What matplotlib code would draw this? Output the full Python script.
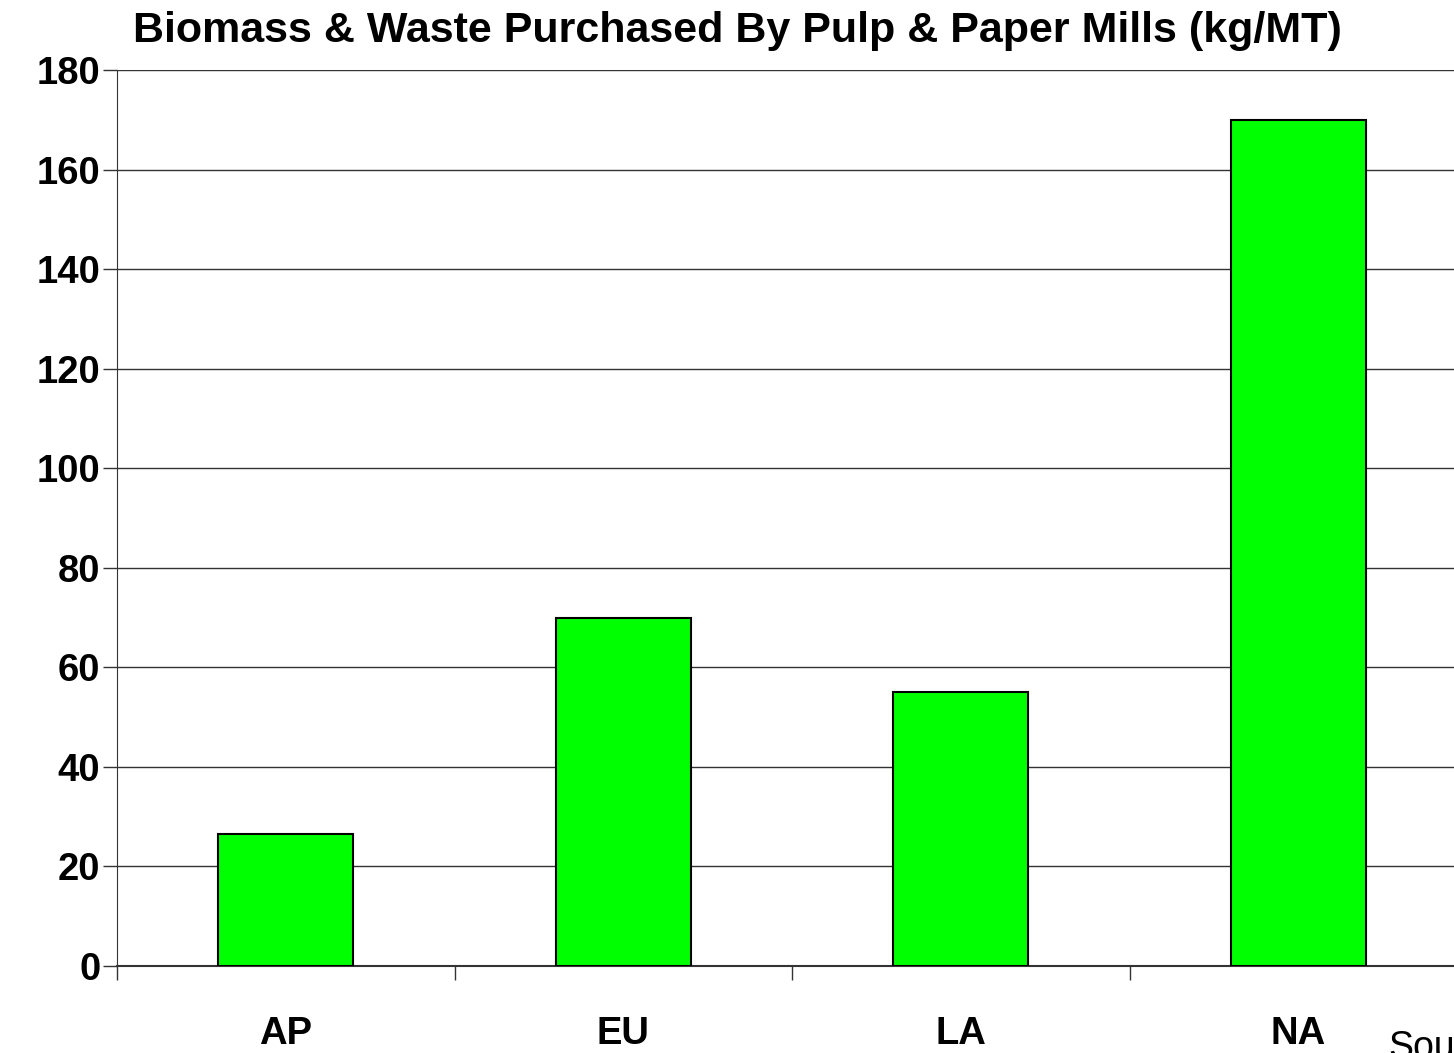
import matplotlib.pyplot as plt

# Biomass & waste purchased by pulp & paper mills, kg per metric ton
regions = ['AP', 'EU', 'LA', 'NA']
kg_per_mt = [26.5, 70, 55, 170]
y_ticks = [0, 20, 40, 60, 80, 100, 120, 140, 160, 180]

plt.rcParams['font.family'] = ['Liberation Sans', 'DejaVu Sans']

fig = plt.figure(figsize=(14.54, 10.53), dpi=100)
# right edge of the plot area runs past the figure, as in the original slide
ax = fig.add_axes([117 / 1454, 1 - 966 / 1053, 1350 / 1454, 896 / 1053])

x = [i + 0.5 for i in range(len(regions))]
ax.bar(x, kg_per_mt, width=0.4, color='#00ff00', edgecolor='black', linewidth=1.5, zorder=3)

ax.set_xlim(0, len(regions))
ax.set_ylim(0, 180)
ax.set_yticks(y_ticks)
ax.set_yticklabels([str(v) for v in y_ticks], fontsize=27.5, fontweight='bold')
ax.grid(True, axis='y', color='#333333', linewidth=1.0, zorder=0)

# category boundaries get the tick marks, names sit in between
ax.set_xticks(range(len(regions) + 1))
ax.set_xticklabels([])
ax.set_xticks(x, minor=True)
ax.set_xticklabels(regions, minor=True, fontsize=27.5, fontweight='bold')
ax.tick_params(axis='x', which='major', direction='out', length=10, width=1, color='#333333')
ax.tick_params(axis='x', which='minor', length=0, pad=36)
ax.tick_params(axis='y', direction='out', length=10, width=1, color='#333333', pad=2)

for side in ['top', 'right']:
    ax.spines[side].set_visible(False)
ax.spines['left'].set_color('#333333')
ax.spines['bottom'].set_color('#333333')
ax.spines['bottom'].set_linewidth(1.5)

fig.text(737 / 1454, 1 - 31 / 1053, 'Biomass & Waste Purchased By Pulp & Paper Mills (kg/MT)',
         ha='center', va='center', fontsize=31, fontweight='bold')
# source note sits off the slide edge in the original, so it is clipped there too
fig.text(1388 / 1454, 1 - 1030 / 1053, 'Source', ha='left', va='top', fontsize=27)

fig.savefig('out.png', dpi=100)
